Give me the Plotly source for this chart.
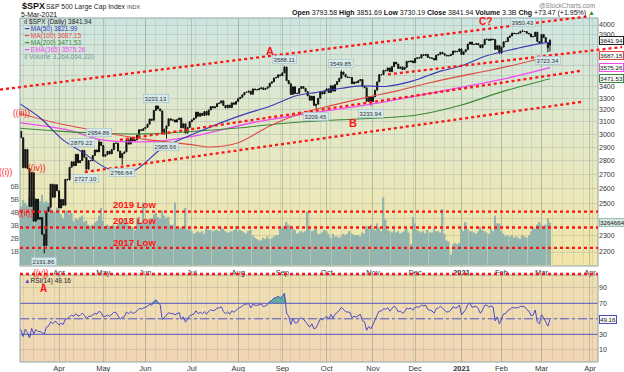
import math
import numpy as np
import pandas as pd
import plotly.graph_objects as go

# ---------------- trading calendar ----------------
holidays = ["2020-04-10", "2020-05-25", "2020-07-03", "2020-09-07", "2020-11-26",
            "2020-12-25", "2021-01-01", "2021-01-18", "2021-02-15", "2021-04-02"]
calendar = pd.bdate_range("2020-03-05", "2021-04-09", freq="C", holidays=holidays)
date_key = [d.strftime("%Y-%m-%d") for d in calendar]
pos = {k: i for i, k in enumerate(date_key)}

# ---------------- data (read / estimated from the chart) ----------------
# warm-up closes (Jan 2 - Mar 4 2020) used only for the RSI(14) seed
prior_close = [3257.85, 3234.85, 3246.28, 3237.18, 3253.05, 3274.70, 3265.35, 3288.13, 3283.15,
               3289.29, 3316.81, 3329.62, 3320.79, 3321.75, 3325.54, 3295.47, 3243.63, 3276.24,
               3273.40, 3283.66, 3225.52,
               3248.92, 3297.59, 3334.69, 3345.78, 3327.71, 3352.09, 3357.75, 3379.45, 3373.94,
               3380.16, 3370.29, 3386.15, 3373.23, 3337.75, 3225.89, 3128.21, 3116.39, 2978.76,
               2954.22,
               3090.23, 3003.37, 3130.12]

close_mar20 = [3023.94, 2972.37, 2746.56, 2882.23, 2741.38, 2480.64, 2711.02, 2386.13, 2529.19, 2398.10,
               2409.39, 2304.92, 2237.40, 2447.33, 2475.56, 2630.07, 2541.47, 2626.65, 2584.59]
close_apr20 = [2470.50, 2526.90, 2488.65, 2663.68, 2659.41, 2749.98, 2789.82, 2761.63, 2846.06, 2783.36,
               2799.55, 2874.56, 2823.16, 2736.56, 2799.31, 2797.80, 2836.74, 2878.48, 2863.39, 2939.51,
               2912.43]
close_may20 = [2830.71, 2842.74, 2868.44, 2848.42, 2881.19, 2929.80, 2930.32, 2870.12, 2820.00, 2852.50,
               2863.70, 2953.91, 2922.94, 2971.61, 2948.51, 2955.45, 2991.77, 3036.13, 3029.73, 3044.31]
close_jun20 = [3055.73, 3080.82, 3122.87, 3112.35, 3193.93, 3232.39, 3207.18, 3190.14, 3002.10, 3041.31,
               3066.59, 3124.74, 3113.49, 3115.34, 3097.74, 3117.86, 3131.29, 3050.33, 3083.76, 3009.05,
               3053.24, 3100.29]
close_jul20 = [3115.86, 3130.01, 3179.72, 3145.32, 3169.94, 3152.05, 3185.04, 3155.22, 3197.52, 3226.56,
               3215.57, 3224.73, 3251.84, 3257.30, 3276.02, 3235.66, 3215.63, 3239.41, 3218.44, 3258.44,
               3246.22, 3271.12]
close_aug20 = [3294.61, 3306.51, 3327.77, 3349.16, 3351.28, 3360.47, 3333.69, 3380.35, 3373.43, 3372.85,
               3381.99, 3389.78, 3374.85, 3385.51, 3397.16, 3431.28, 3443.62, 3478.73, 3484.55, 3508.01,
               3500.31]
close_sep20 = [3526.65, 3580.84, 3455.06, 3426.96, 3331.84, 3398.96, 3339.19, 3340.97, 3383.54, 3401.20,
               3385.49, 3357.01, 3319.47, 3281.06, 3315.57, 3236.92, 3246.59, 3298.46, 3351.60, 3335.47,
               3363.00]
close_oct20 = [3380.80, 3348.42, 3408.60, 3360.97, 3419.44, 3446.83, 3477.14, 3534.22, 3511.93, 3488.67,
               3483.34, 3483.81, 3426.92, 3443.12, 3435.56, 3453.49, 3465.39, 3400.97, 3390.68, 3271.03,
               3310.11, 3269.96]
close_nov20 = [3310.24, 3369.16, 3443.44, 3510.45, 3509.44, 3550.50, 3545.53, 3572.66, 3537.01, 3585.15,
               3626.91, 3609.53, 3567.79, 3581.87, 3557.54, 3577.59, 3635.41, 3629.65, 3638.35, 3621.63]
close_dec20 = [3662.45, 3669.01, 3666.72, 3699.12, 3691.96, 3702.25, 3672.82, 3668.10, 3663.46, 3647.49,
               3694.62, 3701.17, 3722.48, 3709.41, 3694.92, 3687.26, 3690.01, 3703.06, 3735.36, 3727.04,
               3732.04, 3756.07]
close_jan21 = [3700.65, 3726.86, 3748.14, 3803.79, 3824.68, 3799.61, 3801.19, 3809.84, 3795.54, 3768.25,
               3798.91, 3851.85, 3853.07, 3841.47, 3855.36, 3849.62, 3750.77, 3787.38, 3714.24]
close_feb21 = [3773.86, 3826.31, 3830.17, 3871.74, 3886.83, 3915.59, 3911.23, 3909.88, 3916.38, 3934.83,
               3932.59, 3931.33, 3913.97, 3906.71, 3876.50, 3881.37, 3925.43, 3829.34, 3811.15]
close_mar21 = [3901.82, 3870.29, 3819.72, 3768.47, 3841.94]

# daily volume, billions of shares
vol_mar20 = [4.6, 4.5, 5.0, 4.8, 4.6, 5.2, 5.0, 5.3, 5.1, 5.0, 4.9, 5.4, 4.8, 4.9, 4.8, 4.5, 4.2, 4.1, 4.4]
vol_apr20 = [4.3, 3.9, 3.6, 4.1, 4.2, 3.9, 4.0, 3.4, 3.6, 3.5, 3.7, 3.8, 3.3, 3.4, 3.1, 3.0, 3.1, 3.3,
             3.4, 3.8, 4.4]
vol_may20 = [3.4, 3.0, 3.1, 3.0, 3.0, 3.1, 2.9, 3.2, 3.4, 3.3, 3.6, 3.3, 3.1, 3.0, 2.9, 2.7, 3.5, 3.7,
             3.3, 4.8]
vol_jun20 = [3.2, 3.3, 3.4, 3.6, 3.9, 4.0, 3.7, 3.6, 4.2, 3.8, 3.6, 3.7, 3.1, 3.1, 4.8, 2.9, 2.8, 2.9,
             3.0, 4.4, 2.7, 2.9]
vol_jul20 = [2.6, 2.4, 2.5, 2.6, 2.5, 2.6, 2.4, 2.8, 2.7, 2.7, 2.6, 2.7, 2.7, 2.6, 2.9, 2.8, 2.6, 2.5,
             2.5, 2.6, 2.7, 3.0]
vol_aug20 = [2.6, 2.7, 2.6, 2.5, 2.4, 2.6, 2.7, 2.3, 2.1, 2.0, 1.9, 1.9, 2.1, 2.0, 2.2, 2.0, 2.1, 2.2,
             2.3, 2.3, 2.8]
vol_sep20 = [2.9, 3.0, 3.3, 3.1, 3.0, 2.8, 2.7, 2.4, 2.5, 2.6, 2.5, 2.6, 4.1, 2.9, 2.6, 2.7, 2.8, 2.4,
             2.4, 2.5, 2.7]
vol_oct20 = [2.6, 2.4, 2.1, 2.4, 2.2, 2.2, 2.1, 2.2, 2.4, 2.3, 2.4, 2.6, 2.4, 2.3, 2.3, 2.3, 2.2, 2.5,
             2.4, 3.0, 2.8, 3.1]
vol_nov20 = [2.8, 2.7, 3.2, 2.9, 2.6, 5.2, 3.5, 2.7, 2.6, 2.5, 2.9, 2.5, 2.6, 2.4, 2.5, 2.6, 2.8, 2.5,
             1.6, 3.7]
vol_dec20 = [3.2, 2.7, 2.6, 2.5, 2.6, 2.4, 2.7, 2.5, 2.5, 2.8, 2.6, 2.6, 2.5, 4.3, 2.4, 1.9, 1.8, 0.8,
             1.6, 1.7, 1.6, 1.7]
vol_jan21 = [2.9, 2.6, 3.3, 2.8, 2.6, 2.6, 2.5, 2.4, 2.6, 2.9, 2.7, 2.6, 2.5, 2.4, 2.8, 2.6, 3.8, 3.2, 3.2]
vol_feb21 = [2.6, 2.4, 2.2, 2.3, 2.2, 2.3, 2.1, 2.2, 2.1, 2.0, 2.3, 2.2, 2.1, 2.3, 2.6, 2.9, 2.8, 3.1, 3.3]
vol_mar21 = [3.1, 2.8, 3.1, 3.6, 3.264664320]

# moving averages (values at selected dates, read/estimated from the chart)
ma50_dates = ["2020-03-05", "2020-03-19", "2020-04-03", "2020-04-20", "2020-05-05", "2020-05-21",
              "2020-06-11", "2020-07-07", "2020-08-03", "2020-08-24", "2020-09-11", "2020-09-24",
              "2020-10-12", "2020-10-23", "2020-11-10", "2020-11-30", "2020-12-17", "2020-12-31",
              "2021-01-21", "2021-02-10", "2021-02-26", "2021-03-05"]
ma50_vals = [3254.8, 3132.8, 2954.1, 2852.6, 2741.5, 2722.0, 2891.8, 3017.2, 3144.4, 3228.8, 3321.6,
             3349.3, 3385.6, 3407.9, 3402.5, 3452.4, 3542.7, 3585.5, 3688.3, 3758.5, 3808.4, 3821.99]
ma100_dates = ["2020-03-05", "2020-04-01", "2020-05-01", "2020-06-01", "2020-07-01", "2020-07-15",
               "2020-08-03", "2020-08-24", "2020-09-14", "2020-10-05", "2020-10-28", "2020-11-18",
               "2020-12-09", "2020-12-31", "2021-01-22", "2021-02-12", "2021-03-05"]
ma100_vals = [3171.0, 3085.5, 3016.6, 2959.4, 2918.8, 2901.1, 2933.2, 3066.0, 3165.0, 3234.8, 3306.1,
              3365.2, 3430.8, 3494.0, 3547.9, 3614.9, 3687.15]
ma200_dates = ["2020-03-05", "2020-04-01", "2020-05-01", "2020-06-01", "2020-07-01", "2020-08-03",
               "2020-09-01", "2020-10-01", "2020-11-02", "2020-12-01", "2021-01-04", "2021-02-01",
               "2021-03-01", "2021-03-05"]
ma200_vals = [3048.0, 3024.3, 3005.4, 3003.0, 3022.1, 3049.4, 3086.6, 3110.6, 3128.6, 3153.6, 3240.3,
              3354.1, 3452.3, 3471.53]
ema365_dates = ["2020-03-05", "2020-04-07", "2020-04-29", "2020-05-21", "2020-06-11", "2020-07-08",
                "2020-08-11", "2020-09-14", "2020-10-28", "2020-12-11", "2021-01-29", "2021-03-05"]
ema365_vals = [3092.0, 3035.0, 2960.0, 2940.0, 2948.0, 2995.0, 3090.0, 3157.0, 3241.0, 3345.0, 3461.0,
               3575.26]

# labelled highs / lows
ext_dates = ["2020-03-23", "2020-04-17", "2020-04-21", "2020-04-29", "2020-05-14", "2020-06-08",
             "2020-06-15", "2020-09-02", "2020-09-24", "2020-10-12", "2020-10-30", "2021-02-16",
             "2021-03-04"]
ext_vals = [2191.86, 2879.22, 2727.10, 2954.86, 2766.64, 3233.13, 2965.66, 3588.11, 3209.45, 3549.85,
            3233.94, 3950.43, 3723.34]
ext_kind = ["L", "H", "L", "H", "L", "H", "L", "H", "L", "H", "L", "H", "L"]
last_ohlc = [3793.58, 3851.69, 3730.19, 3841.94]

# horizontal support levels
level_names = ["2019 Low", "2018 Low", "2017 Low"]
level_vals = [2447.0, 2346.58, 2224.0]

# trend lines: (trading-day index, price) endpoints
trend_lines = [(-9.0, 3374.0, 271.0, 4095.0),
               (47.9, 2956.0, 266.3, 3544.0),
               (175.1, 3512.0, 286.2, 3775.0),
               (31.3, 2716.0, 267.7, 3269.0)]

price_ticks = list(range(2200, 4001, 100))
price_hidden = [2400, 3500, 3600, 3700, 3800]     # covered by value boxes in the reference
rsi_ticks = [10, 30, 50, 70, 90]
rsi_levels = [70, 50, 30]
month_starts = ["2020-04", "2020-05", "2020-06", "2020-07", "2020-08", "2020-09", "2020-10",
                "2020-11", "2020-12", "2021-01", "2021-02", "2021-03", "2021-04"]
month_labels = ["Apr", "May", "Jun", "Jul", "Aug", "Sep", "Oct", "Nov", "Dec", "<b>2021</b>",
                "Feb", "Mar", "Apr"]

# ---------------- assemble ----------------
month_closes = [close_mar20, close_apr20, close_may20, close_jun20, close_jul20, close_aug20,
                close_sep20, close_oct20, close_nov20, close_dec20, close_jan21, close_feb21, close_mar21]
month_vols = [vol_mar20, vol_apr20, vol_may20, vol_jun20, vol_jul20, vol_aug20, vol_sep20,
              vol_oct20, vol_nov20, vol_dec20, vol_jan21, vol_feb21, vol_mar21]
for a, b in zip(month_closes, month_vols):
    assert len(a) == len(b)
close = sum(month_closes, [])
volume_b = sum(month_vols, [])
n = len(close)
assert n == 253 and date_key[n - 1] == "2021-03-05"
idx = list(range(n))

opens = [prior_close[-1]] + close[:-1]
opens[-1] = last_ohlc[0]
highs = [max(o, c) for o, c in zip(opens, close)]
lows = [min(o, c) for o, c in zip(opens, close)]
for d, v, k in zip(ext_dates, ext_vals, ext_kind):
    i = pos[d]
    if k == "H":
        highs[i] = max(highs[i], v)
    else:
        lows[i] = min(lows[i], v)
highs[-1] = last_ohlc[1]
lows[-1] = last_ohlc[2]

# RSI(14), Wilder smoothing
ca = np.array(prior_close + close, dtype=float)
dlt = np.diff(ca)
gain = np.clip(dlt, 0, None)
loss = np.clip(-dlt, 0, None)
ag, al = gain[:14].mean(), loss[:14].mean()
rsi_all = np.full(len(ca), np.nan)
rsi_all[14] = 100 - 100 / (1 + ag / al)
for j in range(14, len(dlt)):
    ag = (ag * 13 + gain[j]) / 14
    al = (al * 13 + loss[j]) / 14
    rsi_all[j + 1] = 100 - 100 / (1 + ag / al)
rsi = rsi_all[len(prior_close):]

month_idx = [next(i for i, k in enumerate(date_key) if k.startswith(m)) for m in month_starts]
week_idx = [i for i in range(1, len(calendar)) if calendar[i].weekday() < calendar[i - 1].weekday()]

# ---------------- geometry ----------------
W, H = 624, 372
ML, MR, MT, MB = 20, 26, 18, 10
PW, PH = W - ML - MR, H - MT - MB
X_RANGE = [0.475, 274.8]
LOG_RANGE = [3.32641, 3.61007]
PRICE_DOM = [96 / PH, 1.0]
RSI_DOM = [0.0, 87 / PH]
VOL_RANGE = [-0.077, 19.0]
RSI_RANGE = [-5.7, 106.5]


def pix(x, y):
    return (x - ML) / PW, (H - MB - y) / PH


def to_paper(i, p):
    fx = (i - X_RANGE[0]) / (X_RANGE[1] - X_RANGE[0])
    fy = PRICE_DOM[0] + (math.log10(p) - LOG_RANGE[0]) / (LOG_RANGE[1] - LOG_RANGE[0]) * (PRICE_DOM[1] - PRICE_DOM[0])
    return fx, fy


def lerp_color(stops, t):
    for (t0, c0), (t1, c1) in zip(stops[:-1], stops[1:]):
        if t0 <= t <= t1:
            u = (t - t0) / (t1 - t0)
            return "rgb(%d,%d,%d)" % tuple(round(a + (b - a) * u) for a, b in zip(c0, c1))
    return "rgb(%d,%d,%d)" % stops[-1][1]


RED = "#ff1414"
C_MA50, C_MA100, C_MA200, C_EMA = "#3a3ab4", "#e24a44", "#3a8a3a", "#f04cf0"
C_RSI = "#4c4cc8"
GRID_MAJ = "rgba(130,150,140,0.45)"
GRID_MIN = "rgba(150,165,155,0.25)"
GRID_H = "rgba(140,155,150,0.30)"

fig = go.Figure()

# volume (base axis, drawn beneath price)
fig.add_trace(go.Bar(x=idx, y=volume_b, xaxis="x", yaxis="y",
                     marker=dict(color="#94b5ae", line=dict(width=0)), hoverinfo="skip"))

for dates, vals, col, w in [(ema365_dates, ema365_vals, C_EMA, 1.3),
                            (ma200_dates, ma200_vals, C_MA200, 1.1),
                            (ma100_dates, ma100_vals, C_MA100, 1.1),
                            (ma50_dates, ma50_vals, C_MA50, 1.1)]:
    fig.add_trace(go.Scatter(x=[pos[d] for d in dates], y=vals, mode="lines", xaxis="x", yaxis="y2",
                             line=dict(color=col, width=w, shape="spline", smoothing=0.9),
                             hoverinfo="skip"))

fig.add_trace(go.Candlestick(x=idx, open=opens, high=highs, low=lows, close=close,
                             xaxis="x", yaxis="y2", whiskerwidth=0,
                             increasing=dict(line=dict(color="#111111", width=1), fillcolor="#111111"),
                             decreasing=dict(line=dict(color="#111111", width=1), fillcolor="#111111"),
                             hoverinfo="skip"))

# RSI panel
over = np.maximum(rsi, rsi_levels[0])
under = np.minimum(rsi, rsi_levels[2])
fill_col = "rgba(70,165,152,0.85)"
fig.add_trace(go.Scatter(x=idx, y=[rsi_levels[0]] * n, mode="lines", line=dict(width=0),
                         xaxis="x2", yaxis="y3", hoverinfo="skip"))
fig.add_trace(go.Scatter(x=idx, y=over, mode="lines", line=dict(width=0), fill="tonexty",
                         fillcolor=fill_col, xaxis="x2", yaxis="y3", hoverinfo="skip"))
fig.add_trace(go.Scatter(x=idx, y=[rsi_levels[2]] * n, mode="lines", line=dict(width=0),
                         xaxis="x2", yaxis="y3", hoverinfo="skip"))
fig.add_trace(go.Scatter(x=idx, y=under, mode="lines", line=dict(width=0), fill="tonexty",
                         fillcolor=fill_col, xaxis="x2", yaxis="y3", hoverinfo="skip"))
for lv in rsi_levels:
    fig.add_trace(go.Scatter(x=X_RANGE, y=[lv, lv], mode="lines", xaxis="x2", yaxis="y3",
                             line=dict(color="#5a5ac8", width=1, dash="dashdot" if lv == 50 else "solid"),
                             hoverinfo="skip"))
fig.add_trace(go.Scatter(x=idx, y=rsi, mode="lines", line=dict(color=C_RSI, width=1),
                         xaxis="x2", yaxis="y3", hoverinfo="skip"))

# ---------------- shapes ----------------
shapes = []
price_stops = [(0.0, (242, 229, 165)), (0.5, (229, 232, 197)), (1.0, (205, 229, 224))]
rsi_stops = [(0.0, (242, 213, 180)), (1.0, (238, 222, 176))]
NB = 40
for k in range(NB):
    t = (k + 0.5) / NB
    y0 = PRICE_DOM[0] + (PRICE_DOM[1] - PRICE_DOM[0]) * k / NB
    y1 = PRICE_DOM[0] + (PRICE_DOM[1] - PRICE_DOM[0]) * (k + 1) / NB
    shapes.append(dict(type="rect", xref="paper", yref="paper", x0=0, x1=1, y0=y0,
                       y1=min(y1 + 0.001, PRICE_DOM[1]),
                       fillcolor=lerp_color(price_stops, t), line=dict(width=0), layer="below"))
for k in range(20):
    t = (k + 0.5) / 20
    y0 = RSI_DOM[0] + (RSI_DOM[1] - RSI_DOM[0]) * k / 20
    y1 = RSI_DOM[0] + (RSI_DOM[1] - RSI_DOM[0]) * (k + 1) / 20
    shapes.append(dict(type="rect", xref="paper", yref="paper", x0=0, x1=1, y0=y0,
                       y1=min(y1 + 0.001, RSI_DOM[1]),
                       fillcolor=lerp_color(rsi_stops, t), line=dict(width=0), layer="below"))
for dom in (PRICE_DOM, RSI_DOM):
    shapes.append(dict(type="rect", xref="paper", yref="paper", x0=0, x1=1, y0=dom[0], y1=dom[1],
                       line=dict(color="#8fa6a6", width=1), fillcolor="rgba(0,0,0,0)", layer="above"))

dot = dict(color=RED, width=2.3, dash="dot")
for (i0, p0, i1, p1) in trend_lines:
    x0, y0 = to_paper(i0, p0)
    x1, y1 = to_paper(i1, p1)
    shapes.append(dict(type="line", xref="paper", yref="paper", x0=x0, y0=y0, x1=x1, y1=y1, line=dot))
for v in level_vals:
    _, yv = to_paper(0, v)
    shapes.append(dict(type="line", xref="paper", yref="paper", x0=0, x1=1, y0=yv, y1=yv, line=dot))
_, ytop = pix(0, 274)
shapes.append(dict(type="line", xref="paper", yref="paper", x0=0, x1=1, y0=ytop, y1=ytop, line=dot))

# ---------------- annotations ----------------
ann = []


def text_at(px, py, s, size, color, xanchor="left", family="Liberation Sans"):
    fx, fy = pix(px, py)
    ann.append(dict(xref="paper", yref="paper", x=fx, y=fy, text=s, showarrow=False,
                    xanchor=xanchor, yanchor="middle", font=dict(size=size, color=color, family=family)))


# header
text_at(20, 6, "<b>$SPX</b>", 9, "#111")
text_at(44, 6.5, "S&P 500 Large Cap Index", 6.8, "#222")
text_at(125, 6.5, "INDX", 5.5, "#444")
text_at(19, 14.5, "5-Mar-2021", 7, "#111")
text_at(597, 5.5, "@StockCharts.com", 6.5, "#888", xanchor="right")
text_at(597, 12.5, "<b>Open</b> 3793.58 <b>High</b> 3851.69 <b>Low</b> 3730.19 <b>Close</b> 3841.94 "
        "<b>Volume</b> 3.3B <b>Chg</b> +73.47 (+1.95%) <span style='color:#2a9a2a'>▲</span>",
        7.0, "#111", xanchor="right")

# legend block
leg = [("ıl $SPX (Daily) 3841.94", "#222"), ("━ MA(50) 3821.99", C_MA50), ("━ MA(100) 3687.15", C_MA100),
       ("━ MA(200) 3471.53", C_MA200), ("━ EMA(365) 3575.26", C_EMA),
       ("ıl Volume 3,264,664,320", "#6f9c97")]
for k, (s, c) in enumerate(leg):
    text_at(22, 22 + 7 * k, s, 6.5, c)
text_at(22, 280.5, "<span style='color:#4c4cc8'>▲</span>RSI(14) 49.16", 6.5, "#222")

# wave / level labels
for s, px, py in [("((iii))", 21, 113), ("((iv))", 37, 168), ("((ii))", 25, 213),
                  ("((v))", 41, 273)]:
    text_at(px, py, s, 8.5, RED, xanchor="center")
text_at(14, 172, "((i))", 8.5, RED, xanchor="right")
text_at(43, 288.5, "<b>A</b>", 10, RED, xanchor="center")
for s, px, py, sz in [("<b>A</b>", 270, 51, 11), ("<b>B</b>", 353, 123, 11), ("<b>C?</b>", 485, 21, 10)]:
    text_at(px, py, s, sz, RED, xanchor="center")
for s, py in zip(level_names, [204.5, 221, 242]):
    text_at(134, py, "<b>" + s + "</b>", 9.5, RED, xanchor="center")

# labelled highs/lows
for d, v, k in zip(ext_dates, ext_vals, ext_kind):
    ann.append(dict(xref="x", yref="y2", x=pos[d], y=math.log10(v), text="%.2f" % v, showarrow=False,
                    yshift=7 if k == "H" else -8, xanchor="center", yanchor="middle",
                    font=dict(size=6, color="#333"), bgcolor="rgba(214,234,238,0.92)",
                    bordercolor="#a2c0c6", borderwidth=0.6, borderpad=1))


def value_box(yref, yval, s, border, bg="#f7f9f9", color="#222"):
    ann.append(dict(xref="paper", x=1.0, xshift=1, yref=yref, y=yval, text=s, showarrow=False,
                    xanchor="left", yanchor="middle", font=dict(size=6.2, color=color),
                    bgcolor=bg, bordercolor=border, borderwidth=1, borderpad=0))


value_box("y2", math.log10(3841.94), "3841.94", "#222")
value_box("y2", math.log10(3687.15), "3687.15", C_MA100)
value_box("y2", math.log10(3575.26), "3575.26", C_EMA)
value_box("y2", math.log10(3471.53), "3471.53", C_MA200)
value_box("y", 3.264664320, "3264664", "#9dbcb6", bg="#d6e8e4")
value_box("y3", 49.16, "49.16", C_RSI)

# ---------------- layout ----------------
xcommon = dict(range=X_RANGE, tickmode="array", tickvals=month_idx, ticktext=month_labels, ticks="",
               showgrid=True, gridcolor=GRID_MAJ, gridwidth=1, zeroline=False, automargin=False,
               minor=dict(tickvals=week_idx, showgrid=True, gridcolor=GRID_MIN, ticks=""),
               tickfont=dict(size=7.5, color="#333"))
fig.update_layout(
    width=W, height=H, margin=dict(l=ML, r=MR, t=MT, b=MB, autoexpand=False),
    paper_bgcolor="white", plot_bgcolor="rgba(0,0,0,0)", showlegend=False,
    font=dict(family="Liberation Sans", size=7, color="#333"), bargap=0.2,
    xaxis=dict(domain=[0, 1], anchor="y", rangeslider=dict(visible=False), **xcommon),
    xaxis2=dict(domain=[0, 1], anchor="y3", matches="x", rangeslider=dict(visible=False), **xcommon),
    yaxis=dict(domain=PRICE_DOM, range=VOL_RANGE, side="left", tickmode="array", automargin=False,
               tickvals=[1, 2, 3, 4, 5, 6], ticktext=["1B", "2B", "3B", "4B", "5B", "6B"],
               showgrid=False, zeroline=False, ticks="", tickfont=dict(size=7, color="#555")),
    yaxis2=dict(overlaying="y", anchor="x", side="right", type="log", range=LOG_RANGE, automargin=False,
                tickmode="array", tickvals=price_ticks,
                ticktext=["" if t in price_hidden else str(t) for t in price_ticks],
                showgrid=True, gridcolor=GRID_H, zeroline=False, ticks="",
                tickfont=dict(size=7, color="#333")),
    yaxis3=dict(domain=RSI_DOM, anchor="x2", side="right", range=RSI_RANGE, tickmode="array",
                automargin=False, tickvals=rsi_ticks,
                ticktext=["" if t == 50 else str(t) for t in rsi_ticks],
                showgrid=True, gridcolor=GRID_H, zeroline=False, ticks="",
                tickfont=dict(size=7, color="#333")),
    shapes=shapes, annotations=ann,
)

fig.write_html("out.html", config={"displayModeBar": False},
               post_script="document.body.style.margin='0px';"
                           "document.body.style.padding='0px';")
